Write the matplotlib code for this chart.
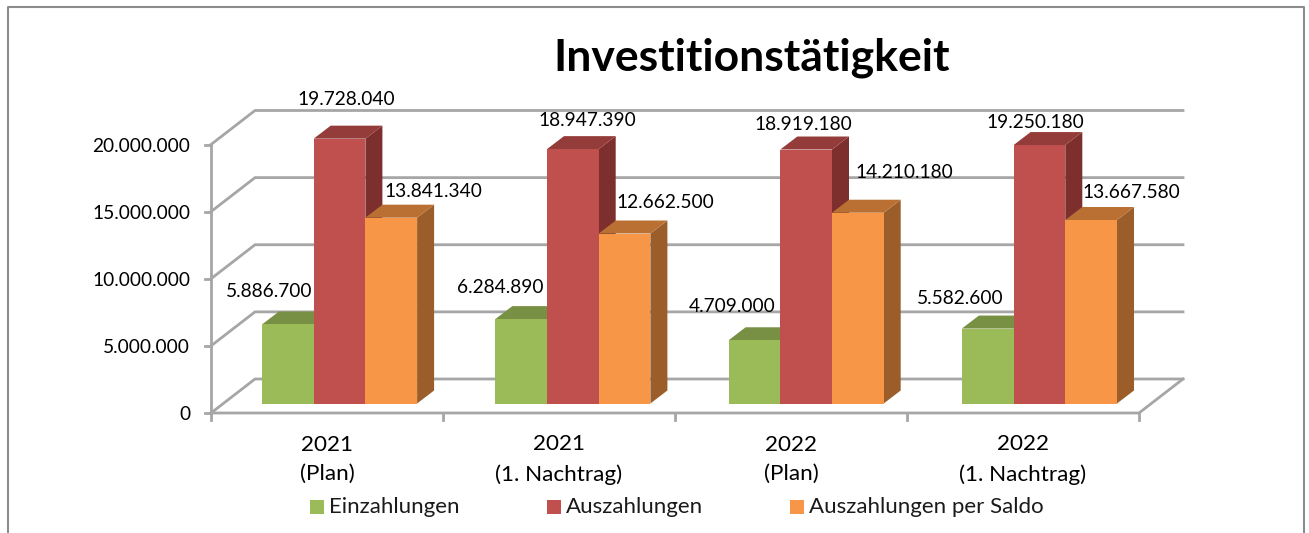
import matplotlib
matplotlib.use('Agg')
import matplotlib.pyplot as plt
from matplotlib.patches import Polygon, Rectangle

plt.rcParams['font.family'] = ['Lato', 'DejaVu Sans']

categories = ['2021\n(Plan)', '2021\n(1. Nachtrag)', '2022\n(Plan)', '2022\n(1. Nachtrag)']
series_names = ['Einzahlungen', 'Auszahlungen', 'Auszahlungen per Saldo']
einzahlungen = [5886700, 6284890, 4709000, 5582600]
auszahlungen = [19728040, 18947390, 18919180, 19250180]
saldo = [13841340, 12662500, 14210180, 13667580]
y_ticks = [0, 5000000, 10000000, 15000000, 20000000]

# farben: front, top, side
colors = [('#9BBB59', '#779043', '#5F7335'),
          ('#C0504D', '#943C3A', '#7D2F2D'),
          ('#F79646', '#B97032', '#9B5E2A')]
grid_col = '#A6A6A6'


def de(v):
    return f'{v:,}'.replace(',', '.')


W, H = 1309, 533
x0_px, y0_px = 211, 413      # ursprung der vorderen ebene
cat_px = 232                 # breite einer kategorie
px_per_val = 268.5 / 20000000

fig = plt.figure(figsize=(W / 100, H / 100), dpi=100)
ax = fig.add_axes([0, 0, 1, 1])
ax.set_xlim(-x0_px / cat_px, (W - x0_px) / cat_px)
ax.set_ylim(-(H - y0_px) / px_per_val, y0_px / px_per_val)
ax.axis('off')

px_x = 1 / cat_px
px_y = 1 / px_per_val
n = len(categories)

# rahmen
frame_x = [(8 - x0_px) * px_x, (8 - x0_px) * px_x, (1304 - x0_px) * px_x, (1304 - x0_px) * px_x]
frame_y = [(y0_px - 533) * px_y, (y0_px - 7) * px_y, (y0_px - 7) * px_y, (y0_px - 533) * px_y]
ax.plot(frame_x, frame_y, color='#8C8C8C', lw=1.5, zorder=1)

# wand und boden
dx, dy = 44 * px_x, 34 * px_y
for t in y_ticks:
    ax.plot([0, dx, n + dx], [t, t + dy, t + dy], color=grid_col, lw=2, zorder=2, solid_joinstyle='miter')
    ax.plot([-6 * px_x, 0], [t, t], color=grid_col, lw=2, zorder=2)
    ax.text(-21 * px_x, t - 2 * px_y, de(t), ha='right', va='center', fontsize=13.8, color='black')
ax.plot([0, 0], [-7 * px_y, y_ticks[-1]], color=grid_col, lw=2, zorder=2)
ax.plot([0, n, n + dx], [0, 0, dy], color=grid_col, lw=2, zorder=2)
for i in range(1, n + 1):
    ax.plot([i, i], [-7 * px_y, 0], color=grid_col, lw=2, zorder=2)

# balken
bar_w = 51.7 * px_x
inset = 51 * px_x
step = 233.3 * px_x
base = 9.5 * px_y
bdx, bdy = 17 * px_x, 13 * px_y
label_px = {
    0: [(-19, 33), (-21, 32), (-22, 34), (-28, 30)],
    1: [(7, 39), (14, 29), (-3, 25), (-4, 23)],
    2: [(42, 26), (41, 31), (46, 40), (40, 28)],
}
for s, vals in enumerate([einzahlungen, auszahlungen, saldo]):
    front, top, side = colors[s]
    for i, v in enumerate(vals):
        x = i * step + inset + s * bar_w
        h = base + v
        # seite, oben, vorne
        ax.add_patch(Polygon([(x + bar_w, base), (x + bar_w + bdx, base + bdy), (x + bar_w + bdx, h + bdy), (x + bar_w, h)],
                             fc=side, ec='none', zorder=3 + s))
        ax.add_patch(Polygon([(x, h), (x + bdx, h + bdy), (x + bar_w + bdx, h + bdy), (x + bar_w, h)],
                             fc=top, ec='none', zorder=3 + s))
        ax.add_patch(Rectangle((x, base), bar_w, v, fc=front, ec='none', zorder=3 + s))
        ox, oy = label_px[s][i]
        ax.text(x + bar_w / 2 + ox * px_x, h + oy * px_y, de(v), ha='center', va='center', fontsize=13.8,
                color='black', zorder=10)

# kategorien
for i, c in enumerate(categories):
    ax.text(i + 0.5, -46.5 * px_y, c, ha='center', va='center', fontsize=16.2, color='black', linespacing=1.58)

# legende
leg_x = [310, 547, 790]
for px, name, col in zip(leg_x, series_names, colors):
    ax.add_patch(Rectangle(((px - x0_px) * px_x, (y0_px - 514) * px_y), 14 * px_x, 14 * px_y, fc=col[0], ec='none'))
    ax.text((px + 18.8 - x0_px) * px_x, (y0_px - 507) * px_y, name, ha='left', va='center', fontsize=16, color='#1a1a1a')

ax.text((752 - x0_px) * px_x, (y0_px - 58) * px_y, 'Investitionstätigkeit', ha='center', va='center',
        fontsize=32, fontweight='bold', color='black')

fig.savefig('out.png', dpi=100)
